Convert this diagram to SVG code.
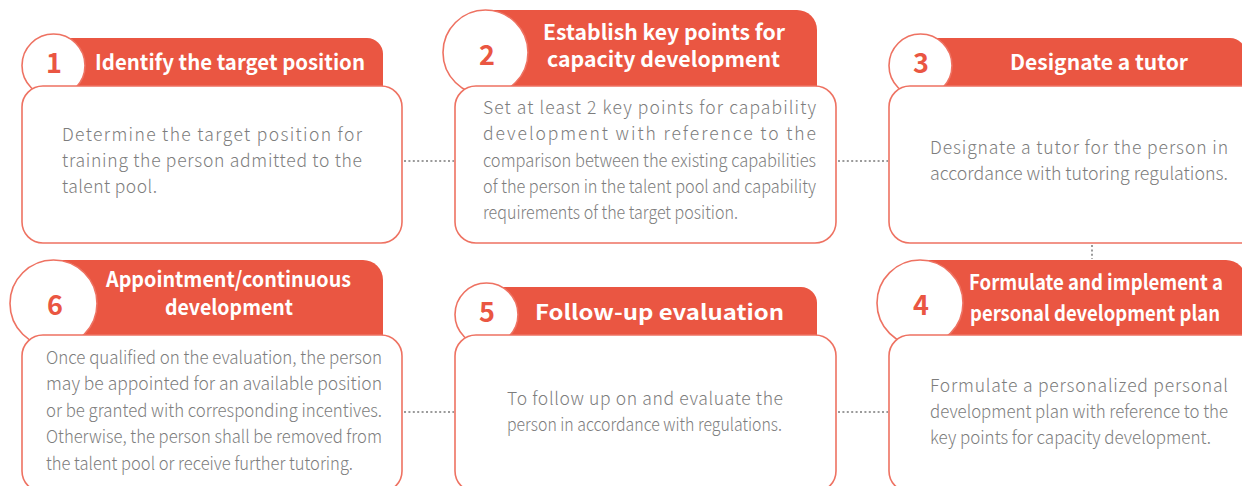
<svg xmlns="http://www.w3.org/2000/svg" width="1242" height="486" viewBox="0 0 1242 486">
<style>
.hdr{fill:#EA5642}
.circ{fill:#fff;stroke:#EE7262;stroke-width:1.6}
.box{fill:#fff;stroke:#EE7262;stroke-width:1.6}
.num{font-family:"Noto Sans CJK SC","Source Sans Pro","Noto Sans",sans-serif;font-weight:700;font-size:27px;fill:#EA5642;text-anchor:middle}
.ttl{font-family:"Noto Sans CJK SC","Noto Sans",sans-serif;font-weight:700;font-size:21px;fill:#fff}
.body{font-family:"Noto Sans CJK SC","Noto Sans",sans-serif;font-weight:300;font-size:17.5px;fill:#7d7d7d}
.conn{stroke:#9a9a9a;stroke-width:2;stroke-dasharray:2 2.4;fill:none}
</style>
<rect width="1242" height="486" fill="#fff"/>
<g id="connectors">
<line class="conn" x1="404" y1="161" x2="454" y2="161"/>
<line class="conn" x1="838" y1="161" x2="888" y2="161"/>
<line class="conn" x1="404" y1="412" x2="454" y2="412"/>
<line class="conn" x1="838" y1="412" x2="888" y2="412"/>
<line class="conn" x1="1092" y1="245" x2="1092" y2="259" stroke-dasharray="2 4"/>
</g>
<g id="node1">
<path class="hdr" d="M53 38 H367 A16 16 0 0 1 383 54 V87 H53 Z"/>
<circle class="circ" cx="53.5" cy="65.5" r="31.5"/>
<rect class="box" x="22" y="86" width="380" height="157" rx="21"/>
<text class="num" x="54" y="73">1</text>
<text class="ttl" x="95" y="70" textLength="270" lengthAdjust="spacingAndGlyphs">Identify the target position</text>
<text class="body" x="62" y="141" textLength="300" lengthAdjust="spacing">Determine the target position for</text>
<text class="body" x="62" y="167" textLength="300" lengthAdjust="spacing">training the person admitted to the</text>
<text class="body" x="62" y="193" textLength="95" lengthAdjust="spacing">talent pool.</text>
</g>
<g id="node2">
<path class="hdr" d="M486 10 H797 A20 20 0 0 1 817 30 V87 H486 Z"/>
<circle class="circ" cx="485.5" cy="52.5" r="42.5"/>
<rect class="box" x="455" y="86" width="381" height="157" rx="21"/>
<text class="num" x="487" y="65">2</text>
<text class="ttl" x="543" y="40" font-size="20.5" textLength="242" lengthAdjust="spacingAndGlyphs">Establish key points for</text>
<text class="ttl" x="547" y="67" font-size="20.5" textLength="233" lengthAdjust="spacingAndGlyphs">capacity development</text>
<text class="body" x="483" y="114" textLength="333" lengthAdjust="spacing">Set at least 2 key points for capability</text>
<text class="body" x="483" y="140" textLength="333" lengthAdjust="spacing">development with reference to the</text>
<text class="body" x="483" y="167" textLength="333" lengthAdjust="spacingAndGlyphs">comparison between the existing capabilities</text>
<text class="body" x="483" y="193" textLength="333" lengthAdjust="spacingAndGlyphs">of the person in the talent pool and capability</text>
<text class="body" x="483" y="219" textLength="255" lengthAdjust="spacingAndGlyphs">requirements of the target position.</text>
</g>
<g id="node3">
<path class="hdr" d="M920 38 H1230 A16 16 0 0 1 1246 54 V87 H920 Z"/>
<circle class="circ" cx="920.5" cy="65.5" r="31.5"/>
<rect class="box" x="889" y="86" width="380" height="157" rx="21"/>
<text class="num" x="921" y="73">3</text>
<text class="ttl" x="1010" y="70" textLength="178" lengthAdjust="spacingAndGlyphs">Designate a tutor</text>
<text class="body" x="930" y="154" textLength="298" lengthAdjust="spacing">Designate a tutor for the person in</text>
<text class="body" x="930" y="180" textLength="298" lengthAdjust="spacingAndGlyphs">accordance with tutoring regulations.</text>
</g>
<g id="node4">
<path class="hdr" d="M920 260 H1226 A20 20 0 0 1 1246 280 V336 H920 Z"/>
<circle class="circ" cx="920" cy="303" r="43"/>
<rect class="box" x="889" y="335" width="380" height="157" rx="21"/>
<text class="num" x="921" y="315">4</text>
<text class="ttl" x="969" y="290" textLength="254" lengthAdjust="spacingAndGlyphs">Formulate and implement a</text>
<text class="ttl" x="970" y="321" textLength="250" lengthAdjust="spacingAndGlyphs">personal development plan</text>
<text class="body" x="930" y="392" textLength="298" lengthAdjust="spacing">Formulate a personalized personal</text>
<text class="body" x="930" y="418" textLength="298" lengthAdjust="spacingAndGlyphs">development plan with reference to the</text>
<text class="body" x="930" y="444" textLength="281" lengthAdjust="spacingAndGlyphs">key points for capacity development.</text>
</g>
<g id="node5">
<path class="hdr" d="M486 287 H801 A16 16 0 0 1 817 303 V336 H486 Z"/>
<circle class="circ" cx="486.5" cy="314.5" r="31.5"/>
<rect class="box" x="455" y="335" width="381" height="157" rx="21"/>
<text class="num" x="487" y="322">5</text>
<text class="ttl" x="535" y="320" font-size="24" textLength="249" lengthAdjust="spacingAndGlyphs">Follow-up evaluation</text>
<text class="body" x="507" y="405" textLength="276" lengthAdjust="spacing">To follow up on and evaluate the</text>
<text class="body" x="507" y="431" textLength="275" lengthAdjust="spacingAndGlyphs">person in accordance with regulations.</text>
</g>
<g id="node6">
<path class="hdr" d="M53 260 H363 A20 20 0 0 1 383 280 V336 H53 Z"/>
<circle class="circ" cx="53.5" cy="303.5" r="43.5"/>
<rect class="box" x="22" y="335" width="380" height="157" rx="21"/>
<text class="num" x="55" y="315">6</text>
<text class="ttl" x="106" y="287" textLength="245" lengthAdjust="spacingAndGlyphs">Appointment/continuous</text>
<text class="ttl" x="165" y="315" textLength="128" lengthAdjust="spacingAndGlyphs">development</text>
<text class="body" x="46" y="364" textLength="336" lengthAdjust="spacingAndGlyphs">Once qualified on the evaluation, the person</text>
<text class="body" x="46" y="390" textLength="336" lengthAdjust="spacingAndGlyphs">may be appointed for an available position</text>
<text class="body" x="46" y="417" textLength="336" lengthAdjust="spacingAndGlyphs">or be granted with corresponding incentives.</text>
<text class="body" x="46" y="443" textLength="336" lengthAdjust="spacingAndGlyphs">Otherwise, the person shall be removed from</text>
<text class="body" x="46" y="470" textLength="307" lengthAdjust="spacingAndGlyphs">the talent pool or receive further tutoring.</text>
</g>
</svg>
